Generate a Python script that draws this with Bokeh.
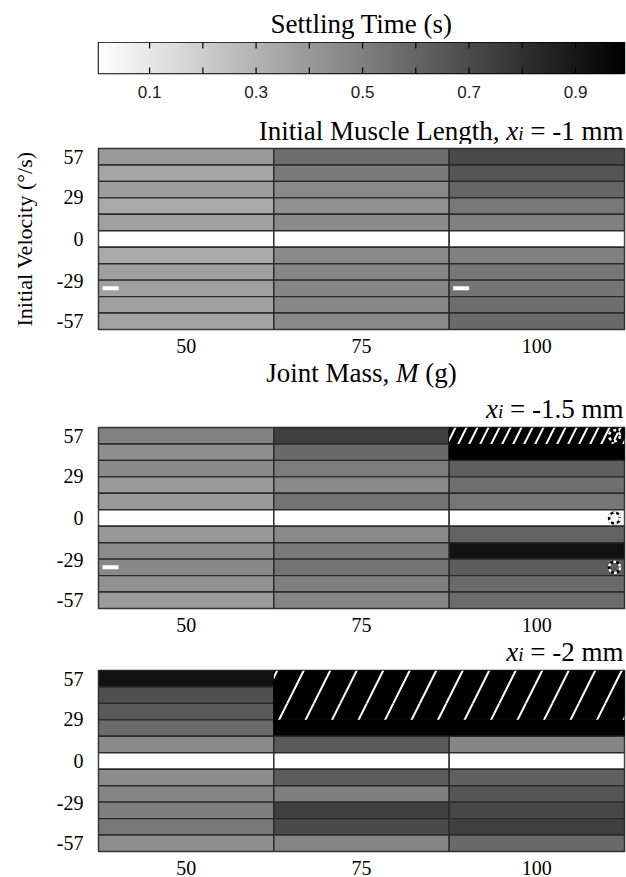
import numpy as np
from bokeh.plotting import figure
from bokeh.layouts import column
from bokeh.models import LinearColorMapper, ColumnDataSource, FixedTicker, Range1d
from bokeh.core.properties import value
from bokeh.embed import file_html
from bokeh.resources import INLINE

# ---------------- data ----------------
masses = [50, 75, 100]                      # joint mass M (g)
velocities = [57, 45.6, 34.2, 22.8, 11.4, 0, -11.4, -22.8, -34.2, -45.6, -57]
vel_ticks = [57, 29, 0, -29, -57]
vel_tick_labels = ["57", "29", "0", "-29", "-57"]
cbar_ticks = [0.1, 0.3, 0.5, 0.7, 0.9]
cbar_all_ticks = [0.1, 0.2, 0.3, 0.4, 0.5, 0.6, 0.7, 0.8, 0.9]
t_min, t_max = 0.004, 0.992                 # colour scale limits (s)

# settling time (s), one list per mass, rows from +57 down to -57 deg/s
# None = did not settle (hatched)
settle_xi_1 = [
    [0.395, 0.353, 0.388, 0.333, 0.372, 0.004, 0.333, 0.372, 0.372, 0.372, 0.360],
    [0.566, 0.519, 0.457, 0.434, 0.457, 0.004, 0.457, 0.477, 0.477, 0.465, 0.457],
    [0.705, 0.663, 0.597, 0.527, 0.496, 0.004, 0.496, 0.531, 0.543, 0.566, 0.581],
]
settle_xi_15 = [
    [0.488, 0.438, 0.457, 0.395, 0.395, 0.004, 0.399, 0.450, 0.465, 0.430, 0.395],
    [0.748, 0.581, 0.512, 0.457, 0.546, 0.004, 0.461, 0.519, 0.546, 0.500, 0.477],
    [None, 0.985, 0.624, 0.562, 0.535, 0.004, 0.612, 0.926, 0.636, 0.581, 0.573],
]
settle_xi_2 = [
    [0.926, 0.686, 0.643, 0.581, 0.457, 0.004, 0.450, 0.477, 0.500, 0.527, 0.442],
    [None, None, None, 0.985, 0.643, 0.004, 0.636, 0.500, 0.748, 0.705, 0.477],
    [None, None, None, 0.985, 0.477, 0.004, 0.624, 0.663, 0.717, 0.748, 0.581],
]
# special marks (mass, velocity)
dash_marks_xi_1 = [(50, -34.2), (100, -34.2)]
dash_marks_xi_15 = [(50, -34.2)]
ring_marks_xi_15 = [(100, 57), (100, 0), (100, -34.2)]

# ---------------- styling helpers ----------------
SERIF = "Liberation Serif"
SANS = "Liberation Sans"
W = 626
BL, BR = 98, 2
FRAME_W = W - BL - BR
COL_PX = FRAME_W / len(masses)
ROW = 11.4

grays = ["#%02x%02x%02x" % (255 - i, 255 - i, 255 - i) for i in range(256)]
mapper = LinearColorMapper(palette=grays, low=t_min, high=t_max, nan_color="black")

TR = {' ': 250, '(': 333, ')': 333, ',': 250, '-': 333, '.': 250, '/': 278,
      '=': 564, '°': 400, 'I': 333, 'J': 389, 'L': 611, 'M': 889, 'S': 556,
      'T': 611, 'V': 722, 'a': 444, 'c': 444, 'e': 444, 'g': 500, 'h': 500,
      'i': 278, 'l': 278, 'm': 778, 'n': 500, 'o': 500, 's': 389, 't': 278,
      'u': 500, 'y': 500}
TI = {'x': 444, 'i': 278, 'M': 833, ' ': 250}


def measure(t, italic, size):
    tab = TI if italic else TR
    return sum(tab.get(c, 500) for c in t) * size / 1000.0


def strip(height):
    # text strip; its x data units are page pixels over the shared frame columns
    s = figure(width=W, height=height, x_range=Range1d(BL, W - BR),
               y_range=Range1d(height, 0),
               output_backend="svg", toolbar_location=None,
               x_axis_location=None, y_axis_location=None,
               min_border_left=BL, min_border_right=BR, min_border_top=0,
               min_border_bottom=0)
    s.outline_line_color = None
    s.grid.visible = False
    return s


def rich_text(s, pieces, x, baseline, align):
    widths = [measure(t, it, sz) for t, it, sz, dy in pieces]
    total = sum(widths)
    pos = x - total if align == "right" else x - total / 2.0
    for (t, it, sz, dy), w in zip(pieces, widths):
        lead = len(t) - len(t.lstrip(" "))
        lead_w = lead * 250 * sz / 1000.0
        s.text(x=[pos + lead_w], y=[baseline + dy], text=[t.strip(" ")],
               text_font=value(SERIF),
               text_font_style="italic" if it else "normal",
               text_font_size="%dpx" % sz, text_align="left",
               text_baseline="alphabetic", text_color="black")
        pos += w


def panel(values, height, bottom, dash_marks=(), ring_marks=(), hatch_scale=20,
          ylabel=None):
    p = figure(width=W, height=height, x_range=Range1d(-0.5, len(masses) - 0.5),
               y_range=Range1d(velocities[-1] - ROW / 2, velocities[0] + ROW / 2),
               output_backend="svg", toolbar_location=None,
               min_border_left=BL, min_border_right=BR,
               min_border_top=4, min_border_bottom=bottom)
    xs, ys, ts, lc = [], [], [], []
    hx, hy = [], []
    for i, m in enumerate(masses):
        for v, t in zip(velocities, values[i]):
            xs.append(i)
            ys.append(v)
            ts.append(np.nan if t is None else t)
            lc.append("black" if (t is None or t > 0.95) else "#2a2a2a")
            if t is None:
                hx.append(i)
                hy.append(v)
    src = ColumnDataSource(dict(x=xs, y=ys, t=ts, lc=lc))
    p.rect(x="x", y="y", width=1, height=ROW, source=src,
           fill_color={"field": "t", "transform": mapper},
           line_color="lc", line_width=1.4)
    if hx:
        p.rect(x=hx, y=hy, width=1, height=ROW, fill_alpha=0, line_alpha=0,
               hatch_pattern="/", hatch_color="white", hatch_weight=2,
               hatch_scale=hatch_scale)
    if dash_marks:
        dx = [masses.index(m) - 0.5 + 12 / COL_PX for m, v in dash_marks]
        dy = [v for m, v in dash_marks]
        p.rect(x=dx, y=dy, width=16, height=4, width_units="screen",
               height_units="screen", fill_color="white", line_color=None)
    if ring_marks:
        rx = [masses.index(m) + 0.5 - 10 / COL_PX for m, v in ring_marks]
        ry = [v for m, v in ring_marks]
        p.scatter(x=rx, y=ry, marker="circle", size=11, fill_color=None,
                  line_color="black", line_width=2.5)
        p.scatter(x=rx, y=ry, marker="circle", size=11, fill_color=None,
                  line_color="white", line_width=2.5, line_dash="3 3")

    p.grid.visible = False
    p.outline_line_color = "#2a2a2a"
    p.outline_line_width = 1.5
    for ax in (p.xaxis[0], p.yaxis[0]):
        ax.axis_line_color = None
        ax.major_tick_line_color = None
        ax.minor_tick_line_color = None
        ax.major_label_text_font = SERIF
        ax.major_label_text_font_size = "20px"
        ax.major_label_text_color = "black"
    p.xaxis.ticker = FixedTicker(ticks=list(range(len(masses))))
    p.xaxis.major_label_overrides = {i: str(m) for i, m in enumerate(masses)}
    p.xaxis.major_label_standoff = 3
    p.yaxis.ticker = FixedTicker(ticks=vel_ticks)
    p.yaxis.major_label_overrides = dict(zip(vel_ticks, vel_tick_labels))
    p.yaxis.major_label_standoff = 9
    if ylabel:
        p.yaxis.axis_label = ylabel
        p.yaxis.axis_label_text_font = SERIF
        p.yaxis.axis_label_text_font_style = "normal"
        p.yaxis.axis_label_text_font_size = "22px"
        p.yaxis.axis_label_text_color = "black"
        p.yaxis.axis_label_standoff = 17
    return p


FRAME_CX = BL + FRAME_W / 2.0
TITLE_RIGHT = W - 3

# ---------------- colour bar ----------------
s0 = strip(42)
s0.text(x=[FRAME_CX], y=[23], text=["Settling Time (s)"], text_font=value(SERIF),
        text_font_size="27px", text_align="center", text_baseline="alphabetic",
        text_color="black")

cb = figure(width=W, height=58, x_range=Range1d(t_min, t_max), y_range=Range1d(0, 1),
            output_backend="svg", toolbar_location=None,
            min_border_left=BL, min_border_right=BR, min_border_top=0,
            min_border_bottom=24)
grad = np.linspace(t_min, t_max, 600)[np.newaxis, :]
cb.image(image=[grad], x=t_min, y=0, dw=t_max - t_min, dh=1, color_mapper=mapper)
for yy in (0, 1):
    cb.scatter(x=cbar_all_ticks, y=[yy] * len(cbar_all_ticks), marker="dash",
               angle=np.pi / 2, size=12, line_color="black", line_width=1.2)
cb.grid.visible = False
cb.yaxis.visible = False
cb.outline_line_color = "black"
cb.outline_line_width = 1.5
xa = cb.xaxis[0]
xa.ticker = FixedTicker(ticks=cbar_ticks)
xa.axis_line_color = None
xa.major_tick_line_color = None
xa.minor_tick_line_color = None
xa.major_label_text_font = SANS
xa.major_label_text_font_size = "17px"
xa.major_label_text_color = "#222222"
xa.major_label_standoff = 6

# ---------------- panels ----------------
s1 = strip(44)
rich_text(s1, [("Initial Muscle Length, ", False, 27, 0), ("x", True, 27, 0),
               ("i", True, 19, 3), (" = -1 mm", False, 27, 0)],
          TITLE_RIGHT, 30, "right")

p1 = panel(settle_xi_1, 211, 25, dash_marks=dash_marks_xi_1,
           ylabel="Initial Velocity (°/s)")

s2 = strip(68)
rich_text(s2, [("Joint Mass, ", False, 27, 0), ("M", True, 27, 0), (" (g)", False, 27, 0)],
          FRAME_CX, 17, "center")
rich_text(s2, [("x", True, 27, 0), ("i", True, 19, 3), (" = -1.5 mm", False, 27, 0)],
          TITLE_RIGHT, 53, "right")

p2 = panel(settle_xi_15, 211, 25, dash_marks=dash_marks_xi_15,
           ring_marks=ring_marks_xi_15, hatch_scale=22)

s3 = strip(32)
rich_text(s3, [("x", True, 27, 0), ("i", True, 19, 3), (" = -2 mm", False, 27, 0)],
          TITLE_RIGHT, 17, "right")

p3 = panel(settle_xi_2, 211, 25, hatch_scale=53)

layout = column(s0, cb, s1, p1, s2, p2, s3, p3)
open("out.html", "w").write(file_html(layout, INLINE))
